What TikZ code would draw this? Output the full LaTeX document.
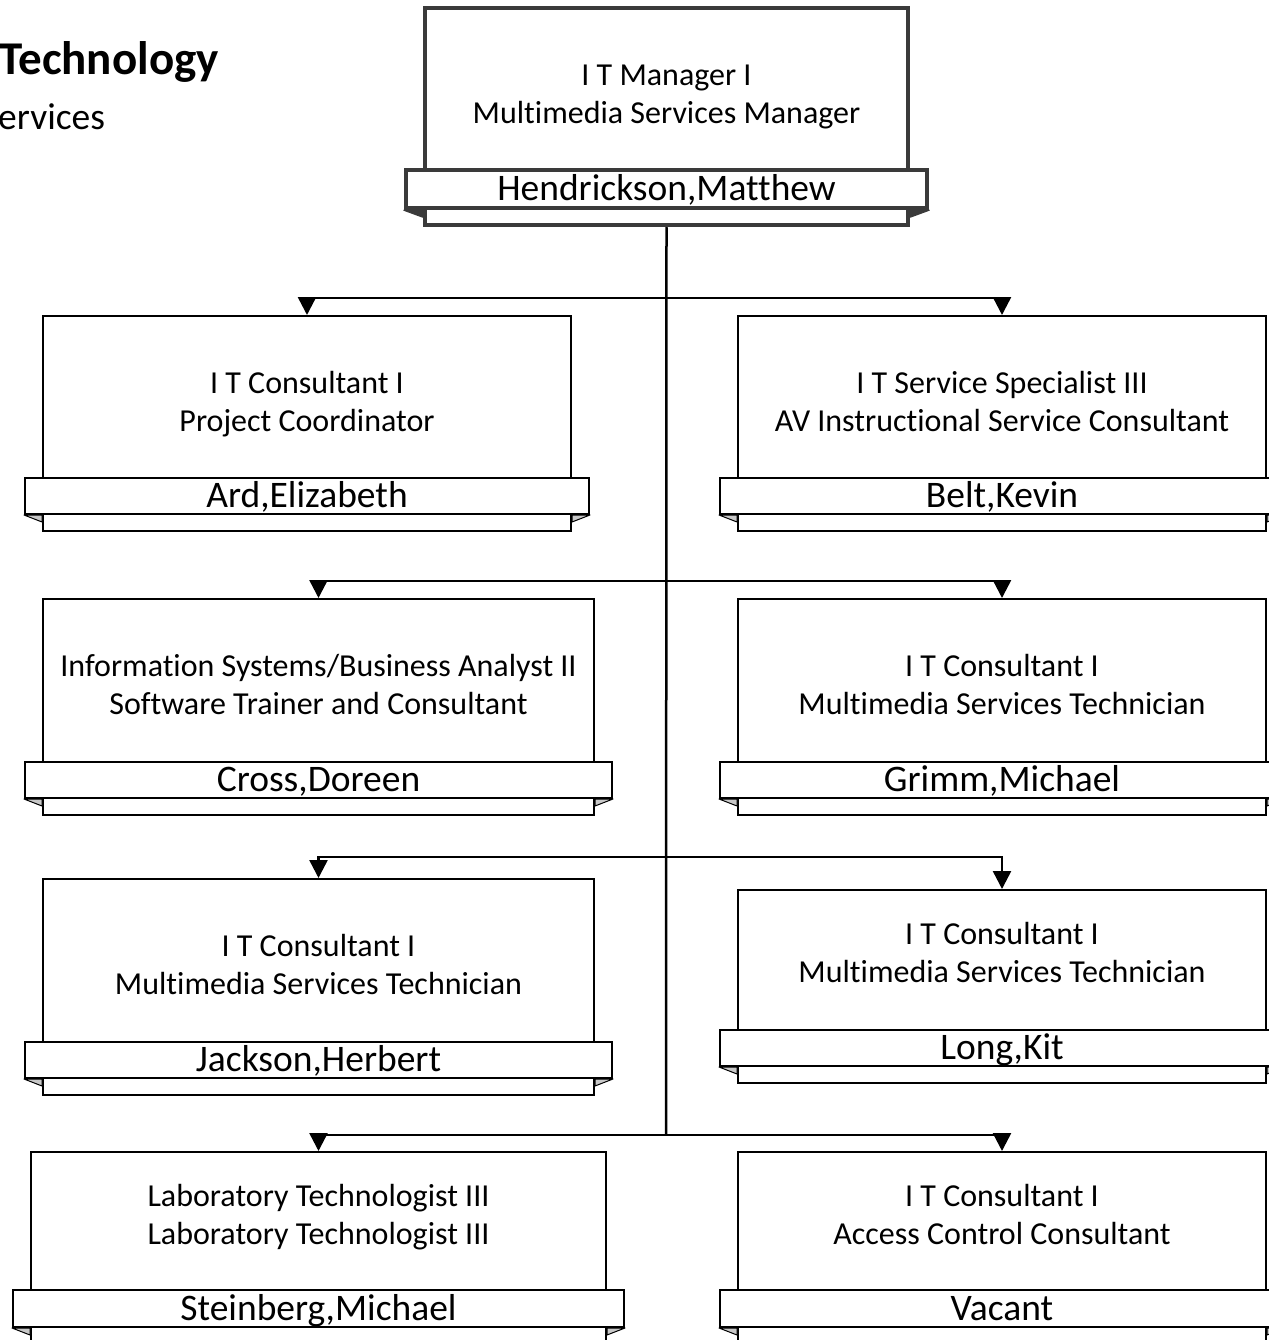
\documentclass[tikz,border=0pt]{standalone}
\usepackage{fontspec}
\setmainfont{Carlito}[Ligatures=NoCommon]
\usetikzlibrary{arrows.meta}
\definecolor{mgrgray}{HTML}{3A3A3A}
\definecolor{foldgray}{HTML}{C8C8C8}
\newcommand{\dutyfont}{\fontsize{32}{38}\selectfont}
\newcommand{\namefont}{\fontsize{37.5}{44}\selectfont}
\newcommand{\bannerfolds}[3][fold]{%
  \draw[#1] (#2.south west) -- ++(#3,7) -- ++(0,-7) -- cycle;
  \draw[#1] (#2.south east) -- ++(-#3,7) -- ++(0,-7) -- cycle;}

\begin{document}
\begin{tikzpicture}[
  x=1pt, y=-1pt,
  post/.style={rectangle, draw=black, line width=2pt, fill=white, inner sep=0},
  banner/.style={rectangle, draw=black, line width=2pt, fill=white, inner sep=0, minimum height=36, text height=28, text depth=5, font=\namefont},
  duty/.style={align=center, font=\dutyfont, inner sep=0, execute at begin node=\strut, execute at end node=\strut},
  fold/.style={draw=black, line width=1pt, line join=round, fill=foldgray},
  arrow/.style={-{Triangle[width=18pt, length=18pt]}, line width=2.5pt}
]
  \useasboundingbox (0,0) rectangle (1268,1340);
  % heading, cut at the left edge
  \node[anchor=base west, inner sep=0, font=\fontsize{47}{56}\selectfont\bfseries] (dept) at (-1,75) {Technology};
  \node[anchor=base west, inner sep=0, font=\fontsize{37.5}{44}\selectfont] (unit) at (-2,130) {ervices};

  % manager
  \node[post, draw=mgrgray, line width=4.5pt, minimum width=483, minimum height=217] (mgr) at (666.5,116.5) {};
  \node[banner, draw=mgrgray, line width=4.5pt, minimum width=521, minimum height=38] (mgrn) at (666.5,189) {Hendrickson,Matthew};
  \bannerfolds[fold, draw=mgrgray, fill=mgrgray]{mgrn}{19}
  \node[duty] (mgrd) at (666.5,100) {I T Manager I\\Multimedia Services Manager};

  % left column
  \node[post, minimum width=528, minimum height=215] (ard) at (307,423.5) {};
  \node[banner, minimum width=564] (ardn) at (307,496) {Ard,Elizabeth};
  \bannerfolds{ardn}{18}
  \node[duty] (ardd) at (307,407) {I T Consultant I\\Project Coordinator};

  \node[post, minimum width=551, minimum height=216] (cross) at (318.5,707) {};
  \node[banner, minimum width=587] (crossn) at (318.5,780) {Cross,Doreen};
  \bannerfolds{crossn}{18}
  \node[duty] (crossd) at (318.5,690) {Information Systems/Business Analyst II\\Software Trainer and Consultant};

  \node[post, minimum width=551, minimum height=216] (jackson) at (318.5,987) {};
  \node[banner, minimum width=587] (jacksonn) at (318.5,1060) {Jackson,Herbert};
  \bannerfolds{jacksonn}{18}
  \node[duty] (jacksond) at (318.5,970) {I T Consultant I\\Multimedia Services Technician};

  \node[post, minimum width=575, minimum height=193] (steinberg) at (318.5,1248.5) {};
  \node[banner, minimum width=611, minimum height=37] (steinbergn) at (318.5,1308.5) {Steinberg,Michael};
  \bannerfolds{steinbergn}{18}
  \node[duty] (steinbergd) at (318.5,1220) {Laboratory Technologist III\\Laboratory Technologist III};

  % right column
  \node[post, minimum width=528, minimum height=215] (belt) at (1002,423.5) {};
  \node[banner, minimum width=564] (beltn) at (1002,496) {Belt,Kevin};
  \bannerfolds{beltn}{18}
  \node[duty] (beltd) at (1002,407) {I T Service Specialist III\\AV Instructional Service Consultant};

  \node[post, minimum width=528, minimum height=216] (grimm) at (1002,707) {};
  \node[banner, minimum width=564] (grimmn) at (1002,780) {Grimm,Michael};
  \bannerfolds{grimmn}{18}
  \node[duty] (grimmd) at (1002,690) {I T Consultant I\\Multimedia Services Technician};

  \node[post, minimum width=528, minimum height=193] (long) at (1002,986.5) {};
  \node[banner, minimum width=564] (longn) at (1002,1048) {Long,Kit};
  \bannerfolds{longn}{18}
  \node[duty] (longd) at (1002,958) {I T Consultant I\\Multimedia Services Technician};

  \node[post, minimum width=528, minimum height=193] (vacant) at (1002,1248.5) {};
  \node[banner, minimum width=564, minimum height=37] (vacantn) at (1002,1308.5) {Vacant};
  \bannerfolds{vacantn}{18}
  \node[duty] (vacantd) at (1002,1220) {I T Consultant I\\Access Control Consultant};

  % reporting lines
  \coordinate (bus1) at (666,298);
  \coordinate (bus2) at (666,581);
  \coordinate (bus3) at (666,857);
  \coordinate (bus4) at (666,1135);
  \draw[line width=2.5pt] (mgr.south) -- (bus4);
  \draw[arrow] (bus1) -| (ard.north);
  \draw[arrow] (bus1) -| (belt.north);
  \draw[arrow] (bus2) -| (cross.north);
  \draw[arrow] (bus2) -| (grimm.north);
  \draw[arrow] (bus3) -| (jackson.north);
  \draw[arrow] (bus3) -| (long.north);
  \draw[arrow] (bus4) -| (steinberg.north);
  \draw[arrow] (bus4) -| (vacant.north);
\end{tikzpicture}
\end{document}
